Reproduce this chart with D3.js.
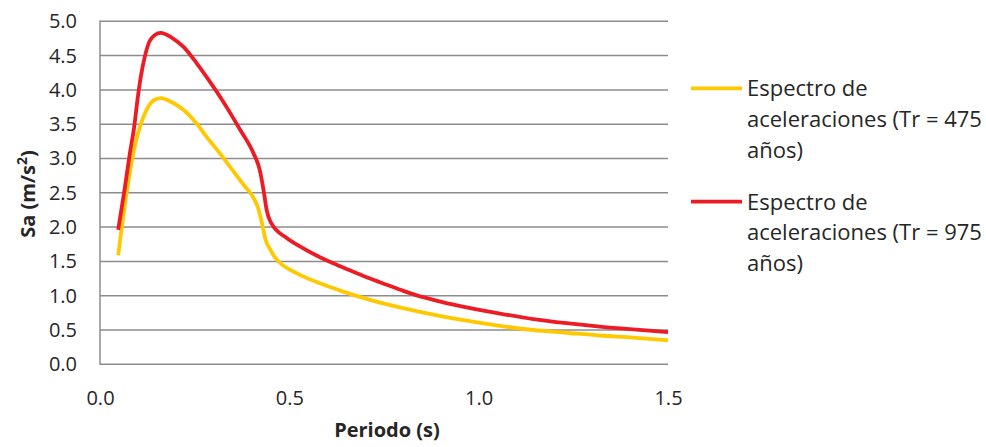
<!DOCTYPE html>
<html><head><meta charset="utf-8">
<script src="https://cdn.jsdelivr.net/npm/d3@7/dist/d3.min.js"></script>
<style>
body{margin:0;background:#fff;}
text{font-family:"Open Sans", sans-serif;fill:#262626;}
</style></head><body>
<svg id="c" width="986" height="447"></svg>
<script>
const periods475 = [0.048,0.070,0.088,0.098,0.123,0.140,0.160,0.190,0.220,0.255,0.281,0.317,0.350,0.380,0.405,0.418,0.428,0.437,0.449,0.462,0.475,0.519,0.581,0.642,0.713,0.783,0.845,0.880,0.968,1.056,1.144,1.232,1.320,1.408,1.500];
const sa475 = [1.59,2.49,3.08,3.32,3.71,3.84,3.88,3.82,3.71,3.51,3.32,3.07,2.83,2.61,2.43,2.27,2.05,1.82,1.68,1.56,1.48,1.33,1.18,1.06,0.94,0.84,0.765,0.725,0.635,0.56,0.50,0.46,0.42,0.39,0.35];
const periods975 = [0.048,0.065,0.079,0.090,0.100,0.108,0.119,0.130,0.145,0.160,0.190,0.220,0.255,0.290,0.317,0.370,0.405,0.422,0.433,0.440,0.452,0.493,0.537,0.581,0.625,0.669,0.713,0.757,0.801,0.845,0.880,0.924,0.968,1.056,1.144,1.232,1.320,1.408,1.500];
const sa975 = [1.96,2.55,3.08,3.45,3.90,4.20,4.50,4.70,4.80,4.83,4.76,4.63,4.39,4.12,3.90,3.42,3.08,2.83,2.50,2.25,2.06,1.84,1.69,1.56,1.45,1.35,1.25,1.16,1.07,0.99,0.94,0.88,0.83,0.74,0.66,0.60,0.55,0.51,0.47];
const yTicks = [0,0.5,1.0,1.5,2.0,2.5,3.0,3.5,4.0,4.5,5.0];
const xTicks = [0,0.5,1.0,1.5];
const seriesNames = ["Espectro de aceleraciones (Tr = 475 años)","Espectro de aceleraciones (Tr = 975 años)"];
const legendLines = [["Espectro de","aceleraciones (Tr = 475","años)"],["Espectro de","aceleraciones (Tr = 975","años)"]];
const colors = ["#FFC800","#ED1C24"];

const svg = d3.select("#c");
const x = d3.scaleLinear().domain([0,1.5]).range([100,668]);
const y = d3.scaleLinear().domain([0,5]).range([364.3,21.3]);

svg.append("g").selectAll("line").data(yTicks).join("line")
  .attr("x1",100).attr("x2",668).attr("y1",d=>y(d)).attr("y2",d=>y(d))
  .attr("stroke","#8c8c8c").attr("stroke-width",1.5);
svg.append("line").attr("x1",100).attr("x2",100).attr("y1",y(5)-0.75).attr("y2",y(0)+0.75)
  .attr("stroke","#8c8c8c").attr("stroke-width",1.5);

const yAxis = d3.axisLeft(y).tickValues(yTicks).tickFormat(d3.format(".1f")).tickSize(0).tickPadding(23);
const gy = svg.append("g").attr("transform","translate(100,0)").call(yAxis);
gy.select(".domain").remove();
gy.selectAll("text").attr("font-size",20).attr("fill","#262626").style("font-family","Open Sans");

const xAxis = d3.axisBottom(x).tickValues(xTicks).tickFormat(d3.format(".1f")).tickSize(0).tickPadding(27);
const gx = svg.append("g").attr("transform","translate(0,364.3)").call(xAxis);
gx.select(".domain").remove();
gx.selectAll("text").attr("font-size",20).attr("fill","#262626").style("font-family","Open Sans");

const data = [periods475.map((p,i)=>[p,sa475[i]]), periods975.map((p,i)=>[p,sa975[i]])];
const line = d3.line().x(d=>x(d[0])).y(d=>y(d[1])).curve(d3.curveMonotoneX);
svg.append("g").selectAll("path").data(data).join("path")
  .attr("d",line).attr("fill","none").attr("stroke",(d,i)=>colors[i]).attr("stroke-width",3.8)
  .attr("stroke-linejoin","round");

const yt = svg.append("text").attr("transform","translate(35,194) rotate(-90)").attr("text-anchor","middle")
  .attr("font-weight","bold").attr("font-size",20);
yt.append("tspan").text("Sa (m/s");
yt.append("tspan").attr("font-size",14).attr("dy",-8).text("2");
yt.append("tspan").attr("dy",8).text(")");
svg.append("text").attr("x",387).attr("y",437).attr("text-anchor","middle")
  .attr("font-weight","bold").attr("font-size",20).text("Periodo (s)");

const lg = svg.append("g").selectAll("g").data(seriesNames).join("g")
  .attr("transform",(d,i)=>`translate(691,${i===0?88.3:201.7})`);
lg.append("line").attr("x1",0).attr("x2",51).attr("y1",0).attr("y2",0)
  .attr("stroke",(d,i)=>colors[i]).attr("stroke-width",3.8);
lg.each(function(d,i){
  const t = d3.select(this).append("text").attr("x",56).attr("y",7.8).attr("font-size",22);
  legendLines[i].forEach((s,j)=>t.append("tspan").attr("x",56).attr("dy",j===0?0:31).text(s));
});
</script></body></html>
